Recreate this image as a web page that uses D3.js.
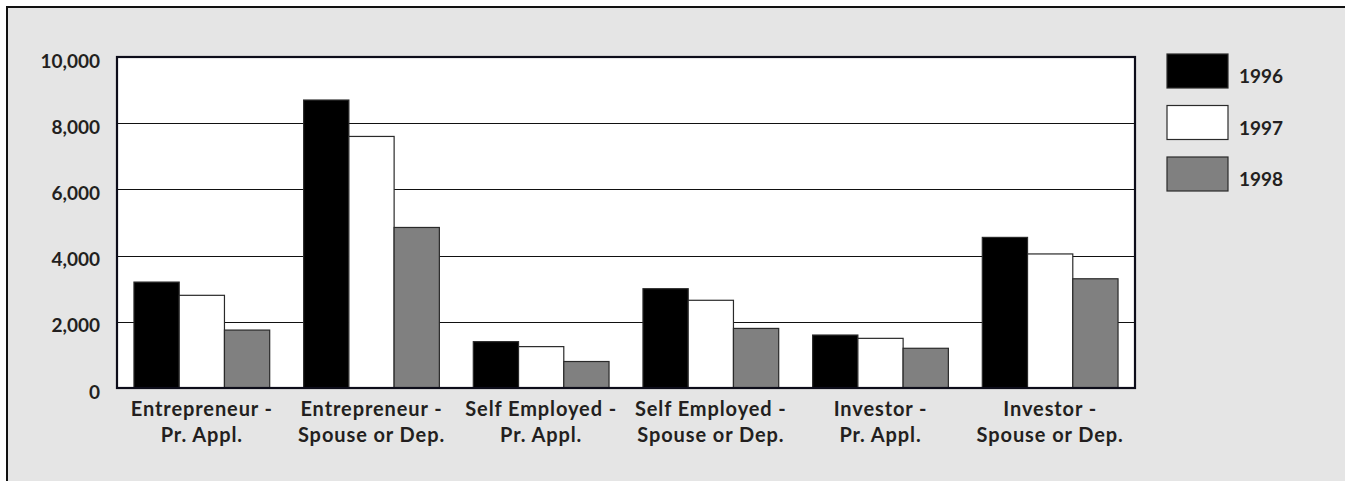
<!DOCTYPE html>
<html>
<head>
<meta charset="utf-8">
<script src="https://cdn.jsdelivr.net/npm/d3@7"></script>
<style>
  html, body { margin: 0; padding: 0; background: #ffffff; }
  svg { display: block; }
  text { font-family: Lato, "Open Sans", sans-serif; font-weight: bold; fill: #231f20; }
</style>
</head>
<body>
<svg id="chart" width="1345" height="481"></svg>
<script>
const categories = [
  ["Entrepreneur -", "Pr. Appl."],
  ["Entrepreneur -", "Spouse or Dep."],
  ["Self Employed -", "Pr. Appl."],
  ["Self Employed -", "Spouse or Dep."],
  ["Investor -", "Pr. Appl."],
  ["Investor -", "Spouse or Dep."]
];
const seriesNames = ["1996", "1997", "1998"];
const values1996 = [3200, 8700, 1400, 3000, 1600, 4550];
const values1997 = [2800, 7600, 1250, 2650, 1500, 4050];
const values1998 = [1750, 4850, 800, 1800, 1200, 3300];
const yTicks = [0, 2000, 4000, 6000, 8000, 10000];
const seriesColors = ["#000000", "#ffffff", "#808080"];

const allSeries = [values1996, values1997, values1998];

const svg = d3.select("#chart");
const W = 1345, H = 481;

// background panel
svg.append("rect").attr("x", 6).attr("y", 6).attr("width", W).attr("height", H)
  .attr("fill", "#e5e5e5");
svg.append("path").attr("d", `M7,${H} L7,7 L${W},7`)
  .attr("fill", "none").attr("stroke", "#111").attr("stroke-width", 2);

const plot = { left: 117, right: 1135, top: 57, bottom: 388 };

const x0 = d3.scaleBand()
  .domain(d3.range(categories.length))
  .range([plot.left, plot.right])
  .paddingInner(0.2).paddingOuter(0.1);
const x1 = d3.scaleBand()
  .domain(d3.range(seriesNames.length))
  .range([0, x0.bandwidth()]);
const y = d3.scaleLinear().domain([0, 10000]).range([plot.bottom, plot.top]);

// plot background
svg.append("rect").attr("x", plot.left).attr("y", plot.top)
  .attr("width", plot.right - plot.left).attr("height", plot.bottom - plot.top)
  .attr("fill", "#ffffff");

// gridlines
svg.append("g").selectAll("line").data(yTicks.filter(t => t > 0 && t < 10000)).join("line")
  .attr("x1", plot.left).attr("x2", plot.right)
  .attr("y1", d => Math.round(y(d)) + 0.5).attr("y2", d => Math.round(y(d)) + 0.5)
  .attr("stroke", "#111").attr("stroke-width", 1);

// bars
const groups = svg.append("g").selectAll("g").data(categories).join("g")
  .attr("transform", (d, i) => `translate(${x0(i)},0)`);
groups.selectAll("rect").data((d, i) => allSeries.map((s, k) => ({ k, v: s[i] }))).join("rect")
  .attr("x", d => x1(d.k))
  .attr("y", d => y(d.v))
  .attr("width", x1.bandwidth())
  .attr("height", d => y(0) - y(d.v))
  .attr("fill", d => seriesColors[d.k])
  .attr("stroke", "#2a2a2a").attr("stroke-width", 1.2);

// frame
svg.append("rect").attr("x", plot.left).attr("y", plot.top)
  .attr("width", plot.right - plot.left).attr("height", plot.bottom - plot.top)
  .attr("fill", "none").attr("stroke", "#0d0d1a").attr("stroke-width", 2.2);

// y axis labels
const yAxis = d3.axisLeft(y).tickValues(yTicks).tickSize(0).tickPadding(17)
  .tickFormat(d3.format(","));
const ya = svg.append("g").attr("transform", `translate(${plot.left},4)`).call(yAxis);
ya.select(".domain").remove();
ya.selectAll("text").attr("font-size", 19).attr("font-family", "Lato, sans-serif")
  .attr("font-weight", "bold").attr("fill", "#231f20");

// x labels
const xl = svg.append("g").selectAll("text").data(categories).join("text")
  .attr("x", (d, i) => x0(i) + x0.bandwidth() / 2)
  .attr("y", 416)
  .attr("text-anchor", "middle")
  .attr("font-size", 20)
  .attr("letter-spacing", 0.9);
xl.selectAll("tspan").data(d => d).join("tspan")
  .attr("x", function() { return this.parentNode.getAttribute("x"); })
  .attr("dy", (d, j) => j === 0 ? 0 : 26)
  .text(d => d);

// legend
const leg = svg.append("g").selectAll("g").data(seriesNames).join("g")
  .attr("transform", (d, i) => `translate(1167,${54 + i * 51.5})`);
leg.append("rect").attr("width", 61).attr("height", 34)
  .attr("fill", (d, i) => seriesColors[i]).attr("stroke", "#2a2a2a").attr("stroke-width", 1.2);
leg.append("text").attr("x", 72).attr("y", 29).attr("font-size", 19).text(d => d);
</script>
</body>
</html>
